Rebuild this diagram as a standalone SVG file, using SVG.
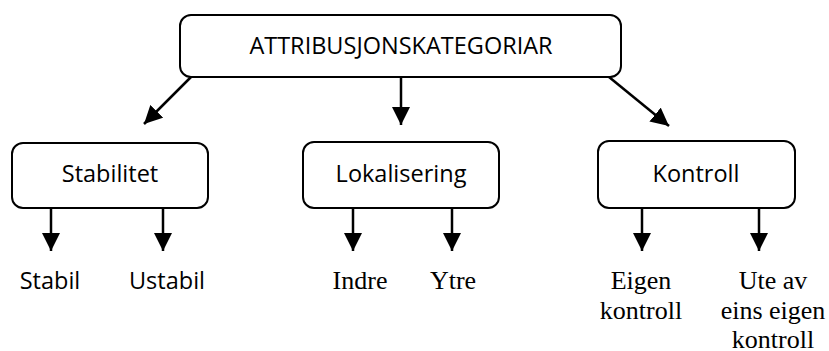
<svg xmlns="http://www.w3.org/2000/svg" width="829" height="351" viewBox="0 0 829 351">
<defs>
<style>
.box{fill:#fff;stroke:#000;stroke-width:2}
.sans{font-family:"Open Sans","Noto Sans","Liberation Sans",sans-serif;font-size:23.5px;fill:#000;text-anchor:middle}
.serif{font-family:"Liberation Serif","Times New Roman",serif;font-size:26px;fill:#000;text-anchor:middle}
.conn{stroke:#000;stroke-width:2.5;fill:none;marker-end:url(#ah)}
</style>
<marker id="ah" markerUnits="userSpaceOnUse" markerWidth="18" markerHeight="18" viewBox="0 0 16 16" refX="16" refY="8" orient="auto">
<path d="M0,0 L16,8 L0,16 Z" fill="#000"/>
</marker>
</defs>
<g id="root">
<rect class="box" x="180" y="15" width="441" height="62" rx="11"/>
<text class="sans" x="401" y="54">ATTRIBUSJONSKATEGORIAR</text>
</g>
<g id="stabilitet">
<rect class="box" x="12" y="143" width="196" height="65" rx="11"/>
<text class="sans" x="110" y="182">Stabilitet</text>
</g>
<g id="lokalisering">
<rect class="box" x="303" y="142" width="196" height="66" rx="11"/>
<text class="sans" x="401" y="182">Lokalisering</text>
</g>
<g id="kontroll">
<rect class="box" x="598" y="141" width="197" height="67" rx="11"/>
<text class="sans" x="696" y="182">Kontroll</text>
</g>
<g id="stabil"><text class="sans" x="50" y="289">Stabil</text></g>
<g id="ustabil"><text class="sans" x="167" y="289">Ustabil</text></g>
<g id="indre"><text class="serif" x="360" y="289">Indre</text></g>
<g id="ytre"><text class="serif" x="453" y="289">Ytre</text></g>
<g id="eigen"><text class="serif" x="641" y="289">Eigen</text><text class="serif" x="641" y="319">kontroll</text></g>
<g id="uteav"><text class="serif" x="773" y="289">Ute av</text><text class="serif" x="773" y="319">eins eigen</text><text class="serif" x="773" y="348">kontroll</text></g>
<g id="connectors">
<line class="conn" x1="191" y1="77" x2="144" y2="124"/>
<line class="conn" x1="401" y1="77" x2="401" y2="125"/>
<line class="conn" x1="609" y1="77" x2="669" y2="126"/>
<line class="conn" x1="51" y1="209" x2="51" y2="251"/>
<line class="conn" x1="163" y1="209" x2="163" y2="251"/>
<line class="conn" x1="353" y1="209" x2="353" y2="251"/>
<line class="conn" x1="452" y1="209" x2="452" y2="251"/>
<line class="conn" x1="642" y1="209" x2="642" y2="251"/>
<line class="conn" x1="759" y1="209" x2="759" y2="251"/>
</g>
</svg>
